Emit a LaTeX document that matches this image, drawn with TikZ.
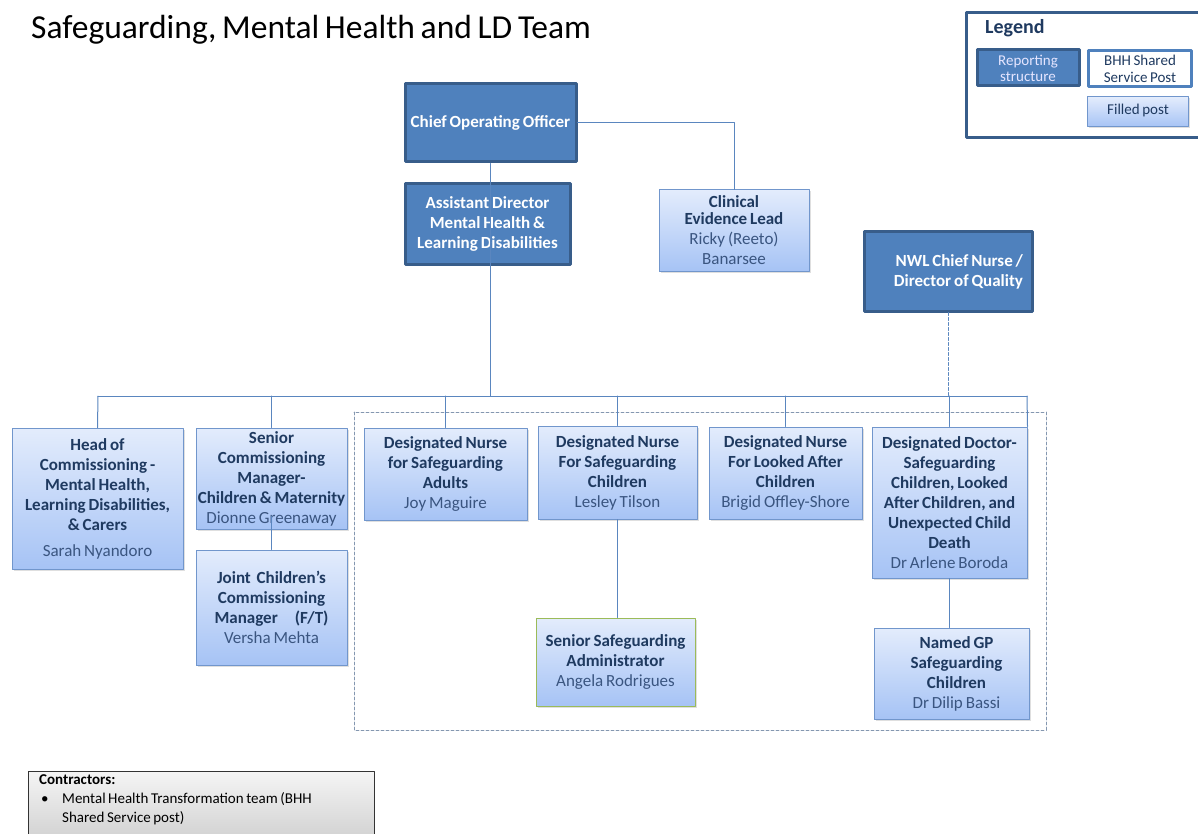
\documentclass[tikz,border=0pt]{standalone}
\usepackage{fontspec}
\setmainfont[WordSpace=0.75]{Carlito}
\usetikzlibrary{shadows}

\definecolor{darkfill}{HTML}{4F81BD}
\definecolor{darkedge}{HTML}{385D8A}
\definecolor{postedge}{HTML}{7196CC}
\definecolor{posttop}{HTML}{E3ECFC}
\definecolor{postbot}{HTML}{A6C3F5}
\definecolor{headcol}{HTML}{1F3A60}
\definecolor{namecol}{HTML}{3A5580}
\definecolor{linkcol}{HTML}{5A86BF}
\definecolor{admedge}{HTML}{9BBB59}
\definecolor{groupcol}{HTML}{8497B0}

\begin{document}
\begin{tikzpicture}[
    x=1pt, y=-1pt,
    line cap=round,
    line join=round,
    darkbox/.style={
        draw=darkedge,
        line width=3pt,
        fill=darkfill,
        text=white,
        align=center,
        inner sep=0pt,
        font=\fontsize{17}{20}\selectfont\bfseries
    },
    postbox/.style={
        draw=postedge,
        line width=1pt,
        top color=posttop,
        bottom color=postbot,
        drop shadow={shadow xshift=1.5pt, shadow yshift=-1.5pt, opacity=0.25},
        text=headcol,
        align=center,
        inner sep=0pt,
        font=\fontsize{17}{20}\selectfont\bfseries
    },
    link/.style={
        draw=linkcol,
        line width=1pt
    },
    groupbox/.style={
        draw=groupcol,
        line width=0.9pt,
        dash pattern=on 3pt off 2pt
    }
]
\newcommand{\who}[1]{{\mdseries\color{namecol}#1}}

\clip (0,0) rectangle (1198,834);
\fill[white] (0,0) rectangle (1198,834);

% -------------------------------------------------
% Title
% -------------------------------------------------

\node[anchor=base west, inner sep=0pt, font=\fontsize{33.5}{38}\selectfont]
    (title) at (31,39) {Safeguarding, Mental Health and LD Team};

% -------------------------------------------------
% Legend
% -------------------------------------------------

\draw[draw=darkedge, line width=3pt, fill=white]
    (966,13) rectangle (1212,138);
\node[anchor=base west, inner sep=0pt, text=headcol,
      font=\fontsize{20}{24}\selectfont\bfseries]
    (legend) at (985,34) {Legend};

\node[darkbox, minimum width=102pt, minimum height=36pt,
      text=blue!10, font=\fontsize{15}{16}\selectfont]
    (keyrep) at (1028,68) {Reporting\\structure};
\node[draw=darkfill, line width=3pt, fill=white, align=center, inner sep=0pt,
      minimum width=103pt, minimum height=36pt, text=headcol,
      font=\fontsize{15}{17}\selectfont]
    (keybhh) at (1140,69) {BHH Shared\\Service Post};
\node[postbox, minimum width=101pt, minimum height=30pt,
      font=\fontsize{15}{17}\selectfont]
    (keyfill) at (1138,112) {\raisebox{6pt}{Filled post}};

% -------------------------------------------------
% Top of the structure
% -------------------------------------------------

\node[darkbox, minimum width=171pt, minimum height=78pt]
    (coo) at (490.5,123) {Chief Operating Officer};

\node[darkbox, minimum width=165pt, minimum height=80pt]
    (ad) at (487.5,224)
    {Assistant Director\\Mental Health \&\\Learning Disabilities};

\node[postbox, minimum width=150pt, minimum height=81pt]
    (cel) at (734,230.5)
    {Clinical\\[-3pt]Evidence Lead\\\who{Ricky (Reeto)}\\\who{Banarsee}};

\node[darkbox, minimum width=168pt, minimum height=79pt,
      text width=150pt, align=flush right]
    (nwl) at (948,271.5) {NWL Chief Nurse /\\Director of Quality};

% -------------------------------------------------
% Commissioning posts
% -------------------------------------------------

\node[postbox, minimum width=171pt, minimum height=141pt]
    (head) at (97.5,498.5)
    {Head of\\Commissioning -\\Mental Health,\\Learning Disabilities,\\
     \& Carers\\[6pt]\who{Sarah Nyandoro}};

\node[postbox, minimum width=151pt, minimum height=101pt]
    (scm) at (271.5,478.5)
    {Senior\\Commissioning\\Manager-\\Children \& Maternity\\
     \who{Dionne Greenaway}};

\node[postbox, minimum width=151pt, minimum height=115pt]
    (jcm) at (271.5,607.5)
    {Joint~~Children's\\Commissioning\\Manager\quad(F/T)\\
     \who{Versha Mehta}};

% -------------------------------------------------
% Safeguarding team (dashed group)
% -------------------------------------------------

\draw[groupbox] (354,412) rectangle (1046,730);

\node[postbox, minimum width=163pt, minimum height=92pt]
    (dna) at (445.5,474)
    {Designated Nurse\\for Safeguarding\\Adults\\\who{Joy Maguire}};

\node[postbox, minimum width=159pt, minimum height=93pt]
    (dnc) at (617.5,472.5)
    {Designated Nurse\\For Safeguarding\\Children\\\who{Lesley Tilson}};

\node[postbox, draw=admedge, minimum width=159pt, minimum height=88pt]
    (ssa) at (615.5,662)
    {Senior Safeguarding\\Administrator\\\who{Angela Rodrigues}};

\node[postbox, minimum width=153pt, minimum height=92pt]
    (lac) at (785.5,473)
    {Designated Nurse\\For Looked After\\Children\\\who{Brigid Offley-Shore}};

\node[postbox, minimum width=155pt, minimum height=151pt]
    (dd) at (949.5,502.5)
    {Designated Doctor-\\Safeguarding\\Children, Looked\\After Children, and\\
     Unexpected Child\\Death\\\who{Dr Arlene Boroda}};

\node[postbox, minimum width=155pt, minimum height=91pt]
    (gp) at (951.5,673.5)
    {\hspace*{10pt}Named GP\\\hspace*{10pt}Safeguarding\\\hspace*{10pt}Children\\
     \hspace*{10pt}\who{Dr Dilip Bassi}};

% -------------------------------------------------
% Reporting lines
% -------------------------------------------------

\coordinate (busL) at (98,396);
\coordinate (busR) at (1027,396);

\draw[link] (coo.east) -| (cel.north);
\draw[link] (coo.south) -- (coo.south |- busL);
\draw[link] (busL) -- (busR);
\draw[link] (busL) -- (head.north);
\draw[link] (scm.north |- busL) -- (scm.north);
\draw[link] (dna.north |- busL) -- (dna.north);
\draw[link] (dnc.north |- busL) -- (dnc.north);
\draw[link] (lac.north |- busL) -- (lac.north);
\draw[link] (dd.north |- busL) -- (dd.north);
\draw[link] (busR) -- (dd.north east);
\draw[link, dash pattern=on 3pt off 2pt] (nwl.south) -- (nwl.south |- busL);
\draw[link] ([yshift=13pt]scm.south) -- (jcm.north);
\draw[link] (dnc.south) -- (dnc.south |- ssa.north);
\draw[link] (dd.south) -- (dd.south |- gp.north);

% -------------------------------------------------
% Contractors note
% -------------------------------------------------

\draw[draw=black!80, line width=1pt, top color=gray!8, bottom color=gray!40]
    (28,771) rectangle (374,850);
\node[anchor=north west, inner sep=0pt, align=left,
      font=\fontsize{15}{19}\selectfont]
    (contract) at (39,774)
    {\textbf{Contractors:}\\
     \makebox[23pt][l]{\hspace{2pt}\textbullet}Mental Health Transformation team (BHH\\
     \hspace*{23pt}Shared Service post)};

\end{tikzpicture}
\end{document}
